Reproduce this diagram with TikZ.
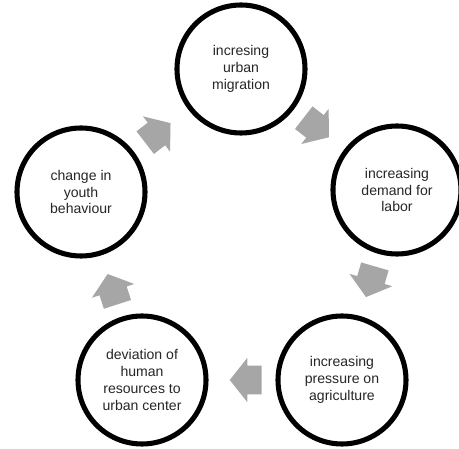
\documentclass[tikz,border=0pt]{standalone}
\usepackage{fontspec}
\setmainfont{Liberation Sans}
\usepackage{tikz}
\usetikzlibrary{shapes.arrows,calc}
\definecolor{arrowgray}{HTML}{A6A6A6}
\definecolor{textgray}{HTML}{262626}

\begin{document}
\begin{tikzpicture}[x=1cm,y=1cm, every node/.style={font=\fontsize{10}{12}\selectfont},
  stage/.style={circle,draw=black,line width=3.6pt,minimum size=3.2cm,align=center,text=textgray,inner sep=0pt},
  flow/.style={single arrow,fill=arrowgray,draw=none,
    inner xsep=0.25cm,inner ysep=0.35cm,single arrow head extend=0.2cm,single arrow tip angle=103,
    pos=0.36,sloped,allow upside down}]
  \useasboundingbox (0,0) rectangle (11.475,11.225);
  \node[stage] (migration) at (6.025,9.5) {incresing\\urban\\migration};
  \node[stage] (demand) at (9.925,6.475) {increasing\\demand for\\labor};
  \node[stage] (pressure) at (8.55,1.725) {increasing\\pressure on\\agriculture};
  \node[stage] (deviation) at (3.55,1.725) {deviation of\\human\\resources to\\urban center};
  \node[stage] (youth) at (2.025,6.425) {change in\\youth\\behaviour};
  \path (migration) -- (demand) node[flow] {};
  \path (demand) -- (pressure) node[flow] {};
  \path (pressure) -- (deviation) node[flow] {};
  \path (deviation) -- (youth) node[flow] {};
  \path (youth) -- (migration) node[flow] {};
\end{tikzpicture}
\end{document}
